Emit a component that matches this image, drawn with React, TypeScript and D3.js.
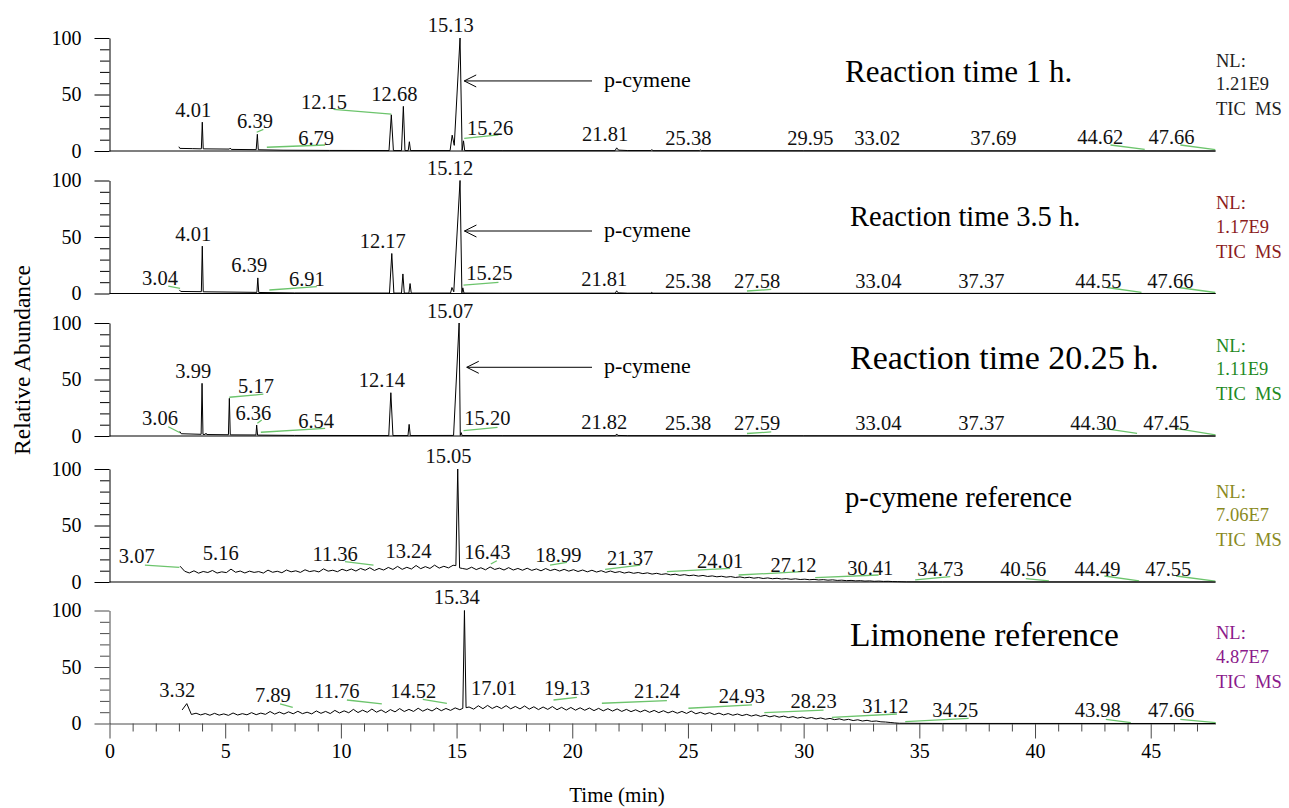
import React, { useEffect, useRef } from 'react';
import * as d3 from 'd3';

// ---- chromatogram traces: [time (min), relative abundance] ----
const trace1h = [
  [3.0, 3.8], [3.04, 2.3], [3.6, 2.1], [3.97, 1.9], [4.01, 25.5], [4.05, 1.9], [5.18, 1.7], [5.22, 2.6],
  [5.26, 1.4], [6.34, 1.2], [6.39, 14.8], [6.43, 1.1], [7.5, 0.7], [9.5, 0.5], [12.08, 0.4], [12.18, 32],
  [12.27, 0.4], [12.62, 0.4], [12.7, 39.5], [12.77, 0.4], [12.91, 0.4], [12.96, 8.2], [13.01, 0.4],
  [14.72, 0.4], [14.81, 14], [14.9, 5], [15.15, 100], [15.24, 0.5], [15.3, 9], [15.35, 0.4], [17, 0.3],
  [21.85, 0.3], [21.92, 2.8], [22.0, 0.8], [22.4, 0.4], [23.4, 0.4], [23.44, 1.3], [23.48, 0.3],
  [25.5, 0.3], [25.54, 1], [25.58, 0.3], [30, 0.2], [47.8, 0],
];
const trace35h = [
  [3.02, 3.2], [3.08, 1.8], [3.97, 1.6], [4.01, 41.9], [4.05, 1.5], [6.37, 1.0], [6.41, 13.8], [6.45, 0.9],
  [8, 0.5], [12.1, 0.4], [12.2, 35.4], [12.29, 0.4], [12.62, 0.4], [12.68, 17.3], [12.74, 0.4],
  [12.94, 0.4], [12.99, 8.8], [13.04, 0.4], [14.74, 0.4], [14.8, 5.3], [14.88, 1.5], [15.15, 100],
  [15.23, 0.5], [15.27, 5], [15.32, 0.4], [17, 0.3], [21.86, 0.3], [21.92, 2.4], [21.98, 0.6],
  [22.4, 0.3], [23.4, 0.3], [23.44, 1.1], [23.48, 0.3], [30, 0.2], [47.8, 0],
];
const trace2025h = [
  [3.04, 4.0], [3.1, 2.0], [3.96, 1.5], [4.0, 46.6], [4.04, 1.4], [4.14, 1.4], [4.17, 2.5], [4.2, 1.3],
  [5.14, 1.1], [5.18, 33.3], [5.22, 1.0], [6.33, 0.9], [6.36, 9.7], [6.4, 0.8], [8, 0.5], [12.07, 0.4],
  [12.16, 38.3], [12.25, 0.4], [12.9, 0.4], [12.95, 10.3], [13.0, 0.4], [14.87, 0.5], [15.11, 100],
  [15.16, 0.5], [15.2, 3], [15.24, 0.4], [17, 0.3], [21.87, 0.3], [21.92, 1.8], [21.97, 0.5],
  [22.4, 0.3], [30, 0.2], [47.8, 0],
];

// noisy reference runs: abundance read every 0.2 min from the start time
const pcymeneRefStart = 3.05;
const pcymeneRefAbund = [
  14, 9.5, 8.0, 9.9, 7.8, 9.3, 8.4, 10.2, 7.9, 9.0, 8.3, 11.4, 8.6, 9.7, 8.0, 9.6, 8.5, 9.2, 7.9, 10.5,
  8.6, 9.5, 8.2, 10.6, 9.0, 9.9, 8.5, 10.8, 9.2, 10.0, 8.9, 11.6, 9.6, 10.4, 9.1, 11.3, 9.9, 11.5, 9.7, 12.0,
  10.4, 12.6, 10.2, 12.0, 10.6, 12.9, 11.1, 13.8, 11.2, 13.0, 11.5, 14.6, 11.8, 13.6, 12.0, 14.9, 12.3, 13.9, 12.5, 14.8,
  14.0, 12.0, 11.2, 13.1, 11.0, 12.6, 10.8, 13.3, 11.1, 12.3, 10.6, 12.7, 10.6, 12.0, 10.4, 12.2, 10.3, 11.6, 9.9, 11.9,
  10.1, 11.3, 9.7, 11.2, 9.6, 10.9, 9.3, 10.6, 9.0, 10.4, 8.8, 10.0, 8.5, 9.7, 8.4, 9.2, 7.9, 8.8, 7.7, 8.4,
  7.4, 8.1, 7.0, 7.7, 6.7, 7.3, 6.3, 6.9, 5.9, 6.5, 5.6, 6.1, 5.2, 5.8, 4.9, 5.4, 4.6, 5.1, 4.3, 4.8,
  4.0, 4.5, 3.7, 4.2, 3.4, 3.9, 3.1, 3.6, 2.9, 3.3, 2.6, 3.0, 2.4, 2.8, 2.2, 2.5, 2.0, 2.3, 1.8, 2.1,
  1.6, 1.9, 1.4, 1.6, 1.2, 1.4, 1.0, 1.2, 0.8, 1.0, 0.6, 0.8, 0.5, 0.6, 0.4, 0.3, 0.2, 0.1,
];
const pcymeneRefPeak = [[14.97, 14.5], [15.05, 100], [15.13, 12.5], [36, 0.05], [47.8, 0]];

const limoneneRefStart = 3.14;
const limoneneRefAbund = [
  12.0, 17.6, 8.0, 9.1, 7.6, 8.8, 7.3, 9.0, 7.4, 8.5, 7.2, 9.3, 7.5, 8.7, 7.7, 9.6, 7.8, 9.2, 8.1, 10.6,
  8.3, 10.1, 8.4, 10.3, 8.6, 10.8, 8.7, 10.0, 8.5, 11.1, 9.0, 10.7, 8.8, 11.6, 9.3, 11.2, 9.5, 12.5, 9.7, 11.8,
  9.9, 12.8, 10.0, 12.0, 9.6, 12.3, 10.3, 13.2, 10.6, 12.5, 10.7, 13.5, 10.9, 12.9, 11.1, 13.7, 11.3, 13.3, 11.6, 13.8,
  12.2, 13.2, 14.6, 12.7, 15.7, 13.1, 16.0, 13.3, 15.3, 13.2, 15.8, 13.0, 15.1, 12.9, 15.5, 12.7, 14.8, 12.3, 14.6, 12.5,
  15.0, 12.2, 14.3, 11.9, 14.2, 11.8, 13.9, 11.7, 13.7, 11.4, 13.4, 11.2, 13.1, 11.0, 12.9, 10.7, 12.5, 10.5, 12.1, 10.2,
  11.9, 9.9, 11.6, 9.6, 11.3, 9.4, 10.9, 9.1, 10.7, 8.9, 11.0, 8.6, 9.9, 8.3, 9.6, 7.9, 9.2, 7.6, 8.8, 7.3,
  8.4, 7.0, 8.1, 6.6, 7.7, 6.3, 7.3, 5.9, 6.9, 5.6, 6.5, 5.2, 6.1, 4.8, 5.7, 4.5, 5.3, 4.1, 4.9, 3.8,
  4.5, 3.4, 4.1, 3.0, 3.7, 2.6, 3.3, 2.2, 2.8, 1.9, 2.2, 1.5, 1.3, 0.9, 0.5, 0.2,
];
const limoneneRefPeak = [[15.27, 13.4], [15.34, 100], [15.41, 14.0], [36, 0.05], [47.8, 0]];

// ---- peak labels: [text, time at label centre, abundance at text baseline] ----
const labels1h = [
  ['15.13', 14.75, 105], ['4.01', 3.62, 30.4], ['6.39', 6.29, 20.1], ['6.79', 8.93, 5.3], ['12.15', 9.27, 36.9],
  ['12.68', 12.31, 44.5], ['15.26', 16.45, 14.2], ['21.81', 21.42, 9.2], ['25.38', 25.02, 5.3], ['29.95', 30.29, 5.3],
  ['33.02', 33.18, 5.3], ['37.69', 38.2, 5.3], ['44.62', 42.82, 6.1], ['47.66', 45.9, 6.1],
];
const labels35h = [
  ['15.12', 14.72, 105], ['3.04', 2.18, 7.5], ['4.01', 3.62, 46.7], ['6.39', 6.04, 19.3], ['6.91', 8.53, 6.6],
  ['12.17', 11.81, 40], ['15.25', 16.42, 11.9], ['21.81', 21.38, 6.6], ['25.38', 25.01, 4.9], ['27.58', 27.99, 4.9],
  ['33.04', 33.23, 4.9], ['37.37', 37.68, 4.9], ['44.55', 42.74, 4.9], ['47.66', 45.85, 4.9],
];
const labels2025h = [
  ['15.07', 14.72, 104], ['3.06', 2.18, 9.7], ['3.99', 3.62, 51], ['5.17', 6.33, 37.8], ['6.36', 6.22, 14.2],
  ['6.54', 8.93, 6.8], ['12.14', 11.77, 43.1], ['15.20', 16.33, 9.7], ['21.82', 21.38, 6.6], ['25.38', 25.01, 4.9],
  ['27.59', 27.99, 4.9], ['33.04', 33.23, 4.9], ['37.37', 37.68, 4.9], ['44.30', 42.52, 4.9], ['47.45', 45.67, 4.9],
];
const labelsPcymeneRef = [
  ['3.07', 1.18, 16.5], ['5.16', 4.81, 19.5], ['11.36', 9.75, 18.8], ['13.24', 12.92, 21], ['15.05', 14.65, 105.6],
  ['16.43', 16.33, 20.4], ['18.99', 19.4, 18], ['21.37', 22.5, 15], ['24.01', 26.39, 12.1], ['27.12', 29.56, 9.1],
  ['30.41', 32.88, 6.2], ['34.73', 35.91, 5.3], ['40.56', 39.49, 5.3], ['44.49', 42.7, 5.3], ['47.55', 45.76, 5.3],
];
const labelsLimoneneRef = [
  ['3.32', 2.93, 23.2], ['7.89', 7.06, 19.3], ['11.76', 9.82, 22.3], ['14.52', 13.13, 22.3], ['15.34', 15.01, 105.8],
  ['17.01', 16.62, 25.2], ['19.13', 19.77, 25.2], ['21.24', 23.66, 22.3], ['24.93', 27.33, 17.9], ['28.23', 30.43, 13.5],
  ['31.12', 33.53, 9.0], ['34.25', 36.55, 6.0], ['43.98', 42.71, 6.0], ['47.66', 45.88, 6.0],
];

// ---- green leader lines: [t1, v1, t2, v2] ----
const leaders1h = [
  [6.36, 16.6, 6.65, 19.2], [6.8, 3.3, 9.32, 5.3], [9.68, 36.9, 12.18, 32.7], [15.33, 11.2, 16.81, 14.2],
  [43.26, 5.3, 44.74, 1.5], [46.28, 5.3, 47.79, 1.2],
];
const leaders35h = [
  [2.54, 6.6, 3.05, 4.6], [6.91, 3.1, 8.96, 6.0], [15.3, 7.5, 16.81, 9.9], [27.55, 2.2, 28.6, 3.6],
  [43.1, 5.3, 44.6, 1.0], [46.2, 5.3, 47.79, 0.9],
];
const leaders2025h = [
  [2.54, 8.2, 3.05, 2.9], [5.18, 34.3, 6.65, 37], [6.39, 11.3, 6.58, 14.2], [6.54, 3.3, 9.32, 6.8],
  [15.3, 4.7, 16.77, 7.7], [27.55, 2.2, 28.6, 3.6], [42.95, 6.8, 44.41, 2.4], [46.07, 6.8, 47.8, 0.9],
];
const leadersPcymeneRef = [
  [1.53, 15, 3.02, 13], [10.18, 18, 11.41, 15], [16.48, 15.9, 16.74, 18.8], [19.04, 15, 19.77, 17.4],
  [21.42, 11.2, 22.94, 15], [24.09, 9.1, 26.82, 12.1], [27.19, 6.2, 29.93, 9.1], [30.5, 3.8, 33.24, 6.2],
  [34.82, 1.8, 36.34, 4.7], [39.6, 3.0, 40.6, 1.0], [43.0, 5.3, 44.5, 1.0], [46.1, 5.3, 47.79, 0.8],
];
const leadersLimoneneRef = [
  [7.37, 17.3, 7.92, 14.3], [10.26, 20.8, 11.77, 17.3], [13.54, 21.4, 14.58, 17.9], [19.19, 20.8, 20.2, 23.2],
  [21.28, 17.9, 24.09, 20.2], [25.02, 13.5, 27.77, 16.4], [28.3, 9.6, 30.86, 11.9], [31.22, 5.5, 34.03, 8.4],
  [34.39, 1.6, 37.13, 4.6], [43.06, 3.7, 44.14, 0.7], [46.28, 3.7, 47.81, 0.7],
];

const panelTitles = ['Reaction time 1 h.', 'Reaction time 3.5 h.', 'Reaction time 20.25 h.', 'p-cymene reference', 'Limonene reference'];
const normLevels = ['1.21E9', '1.17E9', '1.11E9', '7.06E7', '4.87E7'];
const normColors = ['#222222', '#8b1c1c', '#1f8a1f', '#8a8a1e', '#8b1a8b'];
// p-cymene arrow tip [time, abundance] for the reaction runs
const arrowTips = [[15.33, 62], [15.34, 55.3], [15.44, 60.8]];
const xTicksMajor = [0, 5, 10, 15, 20, 25, 30, 35, 40, 45];

const FONT = '"Liberation Serif", "Times New Roman", serif';

function refTrace(start: number, abund: number[], peak: number[][]) {
  const apex = peak[1][0];
  const grid = abund
    .map((v, i) => [start + i * 0.2, v])
    .filter((d) => Math.abs(d[0] - apex) > 0.1);
  return grid.concat(peak).sort((a, b) => a[0] - b[0]);
}

const App = () => {
  const svgRef = useRef<SVGSVGElement>(null);

  useEffect(() => {
    if (!svgRef.current) return;
    const svg = d3.select(svgRef.current);
    svg.selectAll('*').remove();

    const panels = [
      { trace: trace1h, labels: labels1h, leaders: leaders1h },
      { trace: trace35h, labels: labels35h, leaders: leaders35h },
      { trace: trace2025h, labels: labels2025h, leaders: leaders2025h },
      { trace: refTrace(pcymeneRefStart, pcymeneRefAbund, pcymeneRefPeak), labels: labelsPcymeneRef, leaders: leadersPcymeneRef },
      { trace: refTrace(limoneneRefStart, limoneneRefAbund, limoneneRefPeak), labels: labelsLimoneneRef, leaders: leadersLimoneneRef },
    ];

    const panelBase = [151, 293.5, 436, 582, 723.5];
    const panelH = 113;
    const titleX = [845, 850, 850, 845, 850];
    const titleDy = [-69, -67.5, -67, -75, -78];
    const titleSize = [31, 28.5, 34, 28.7, 33.5];
    const x = d3.scaleLinear().domain([0, 47.8]).range([109.5, 1215.5]);

    panels.forEach((p, i) => {
      const base = panelBase[i];
      const y = d3.scaleLinear().domain([0, 100]).range([base, base - panelH]);
      const last = i === panels.length - 1;
      const axisColor = last ? '#4a4a4a' : '#000';
      const g = svg.append('g');

      // y axis: major ticks with labels, minor ticks every 10
      const yMajor = g.append('g').attr('transform', 'translate(109.5,0)')
        .call(d3.axisLeft(y).tickValues([0, 50, 100]).tickSize(15).tickSizeOuter(0).tickPadding(13));
      yMajor.select('.domain').attr('stroke', axisColor);
      yMajor.selectAll('line').attr('stroke', axisColor);
      yMajor.selectAll('text').attr('font-family', FONT).attr('font-size', 20).attr('fill', '#000');
      const yMinor = g.append('g').attr('transform', 'translate(109.5,0)')
        .call(d3.axisLeft(y).tickValues(d3.range(10, 100, 10).filter((v) => v !== 50)).tickSize(9.5).tickSizeOuter(0).tickFormat(() => ''));
      yMinor.select('.domain').remove();
      yMinor.selectAll('line').attr('stroke', axisColor);

      if (last) {
        const xMajor = g.append('g').attr('transform', `translate(0,${base})`)
          .call(d3.axisBottom(x).tickValues(xTicksMajor).tickSize(15).tickSizeOuter(0).tickPadding(5));
        xMajor.select('.domain').attr('stroke', axisColor);
        xMajor.selectAll('line').attr('stroke', axisColor);
        xMajor.selectAll('text').attr('font-family', FONT).attr('font-size', 20).attr('fill', '#000');
        const xMinor = g.append('g').attr('transform', `translate(0,${base})`)
          .call(d3.axisBottom(x).tickValues(d3.range(0, 48, 1).filter((v) => v % 5 !== 0)).tickSize(8).tickSizeOuter(0).tickFormat(() => ''));
        xMinor.select('.domain').remove();
        xMinor.selectAll('line').attr('stroke', axisColor);
      } else {
        g.append('line').attr('x1', x(0)).attr('x2', x(47.8)).attr('y1', base).attr('y2', base)
          .attr('stroke', '#000').attr('stroke-width', 1.2);
      }

      // green leader lines
      g.selectAll('.leader').data(p.leaders).join('line')
        .attr('x1', (d) => x(d[0])).attr('y1', (d) => y(d[1]))
        .attr('x2', (d) => x(d[2])).attr('y2', (d) => y(d[3]))
        .attr('stroke', '#6cc46c').attr('stroke-width', 1.3);

      // chromatogram
      const line = d3.line<number[]>().x((d) => x(d[0])).y((d) => y(d[1]));
      g.append('path').datum(p.trace).attr('d', line)
        .attr('fill', 'none').attr('stroke', '#000').attr('stroke-width', 1).attr('stroke-linejoin', 'round');

      // peak labels
      g.selectAll('.peak-label').data(p.labels).join('text')
        .attr('x', (d) => x(d[1] as number)).attr('y', (d) => y(d[2] as number))
        .attr('text-anchor', 'middle').attr('font-family', FONT).attr('font-size', 20.5).attr('fill', '#111')
        .text((d) => d[0] as string);

      // panel title
      g.append('text').attr('x', titleX[i]).attr('y', base + titleDy[i])
        .attr('font-family', FONT).attr('font-size', titleSize[i]).attr('fill', '#000').text(panelTitles[i]);

      // normalisation level block
      const nl = g.append('text').attr('font-family', FONT).attr('font-size', 18.5).attr('fill', normColors[i]);
      nl.append('tspan').attr('x', 1216).attr('y', base - 84.3).text('NL:');
      nl.append('tspan').attr('x', 1216).attr('y', base - 61).text(normLevels[i]);
      nl.append('tspan').attr('x', 1216).attr('y', base - 36).attr('xml:space', 'preserve').text('TIC  MS');

      // p-cymene arrow
      if (i < arrowTips.length) {
        const [tt, tv] = arrowTips[i];
        const ax = x(tt);
        const ay = y(tv);
        g.append('line').attr('x1', ax).attr('x2', 592).attr('y1', ay).attr('y2', ay).attr('stroke', '#000').attr('stroke-width', 1);
        g.append('path').attr('d', `M${ax + 12},${ay - 6}L${ax},${ay}L${ax + 12},${ay + 6}`)
          .attr('fill', 'none').attr('stroke', '#000').attr('stroke-width', 1);
        g.append('text').attr('x', 604).attr('y', ay + 6).attr('font-family', FONT).attr('font-size', 22)
          .attr('fill', '#000').text('p-cymene');
      }
    });

    svg.append('text').attr('transform', 'translate(30,360) rotate(-90)').attr('text-anchor', 'middle')
      .attr('font-family', FONT).attr('font-size', 23.5).attr('fill', '#000').text('Relative Abundance');
    svg.append('text').attr('x', 617).attr('y', 802).attr('text-anchor', 'middle')
      .attr('font-family', FONT).attr('font-size', 21).attr('fill', '#000').text('Time (min)');
  }, []);

  return (
    <div>
      <style>{`body { margin: 0; background: #fff; }`}</style>
      <svg ref={svgRef} width={1289} height={808} style={{ display: 'block' }} />
    </div>
  );
};

export default App;
